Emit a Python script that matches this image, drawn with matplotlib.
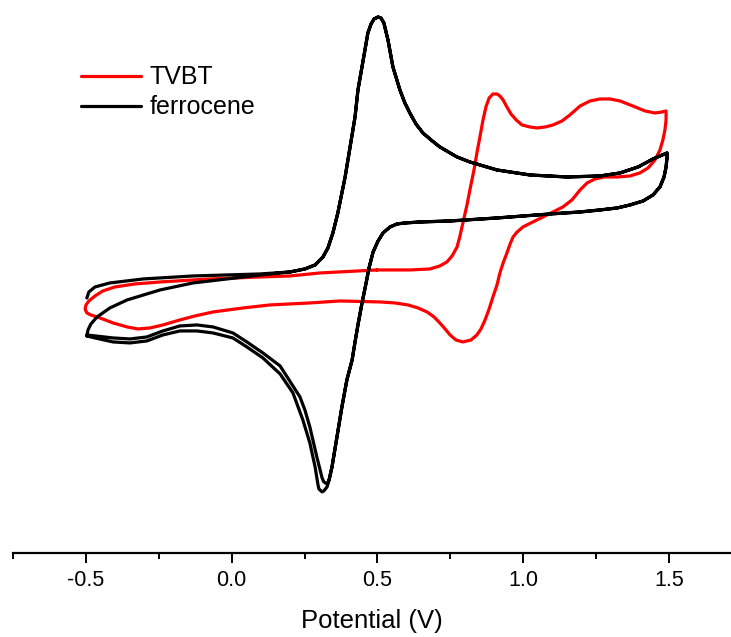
import numpy as np
import matplotlib
matplotlib.use("Agg")
import matplotlib.pyplot as plt
from matplotlib.ticker import MultipleLocator

# ==============================
# DATA  (potential in V, current in arbitrary units)
# ==============================

# ferrocene, first forward (anodic) sweep
fc_fwd_v = [-0.497, -0.490, -0.469, -0.418, -0.304, -0.133, 0.097, 0.200, 0.251, 0.286,
            0.313, 0.330, 0.347, 0.364, 0.378, 0.389, 0.406, 0.423, 0.433, 0.447,
            0.457, 0.467, 0.478, 0.488, 0.502, 0.512, 0.522, 0.536, 0.553, 0.577,
            0.594, 0.611, 0.632, 0.656, 0.684, 0.714, 0.773, 0.817, 0.910, 1.023,
            1.150, 1.263, 1.332, 1.394, 1.445, 1.493]
fc_fwd_i = [-1.8, -1.2, -0.7, -0.3, 0.1, 0.4, 0.6, 0.8, 1.1, 1.5,
            2.3, 3.2, 4.7, 6.7, 8.7, 10.3, 13.3, 16.3, 19.0, 21.3,
            23.0, 24.7, 25.6, 26.1, 26.3, 26.2, 25.7, 24.0, 21.3, 19.0,
            17.7, 16.7, 15.6, 14.7, 14.0, 13.3, 12.3, 11.8, 11.0, 10.5,
            10.3, 10.4, 10.7, 11.3, 12.1, 12.7]

# ferrocene, reverse sweep from 1.5 V down into the cathodic peak (both cycles)
fc_rev_v = [1.493, 1.490, 1.483, 1.469, 1.445, 1.411, 1.366, 1.322, 1.263, 1.195,
            1.092, 0.910, 0.749, 0.646, 0.594, 0.567, 0.543, 0.519, 0.502, 0.485,
            0.471, 0.461, 0.447, 0.433, 0.423, 0.413, 0.395, 0.378, 0.361, 0.344, 0.334]
fc_rev_i = [12.2, 11.3, 10.3, 9.3, 8.5, 7.9, 7.5, 7.2, 7.0, 6.8,
            6.6, 6.2, 5.9, 5.8, 5.7, 5.6, 5.3, 4.7, 3.9, 2.8,
            1.2, -0.3, -2.3, -4.5, -6.2, -8.0, -10.0, -12.7, -15.7, -18.7, -20.0]

# ferrocene, cathodic peak bottom and tail, cycle 1 (inner line)
fc_tail1_v = [0.327, 0.316, 0.310, 0.292, 0.268, 0.251, 0.234, 0.210, 0.166, 0.107,
              0.052, 0.004, -0.064, -0.119, -0.178, -0.236, -0.291, -0.349, -0.407,
              -0.469, -0.497]
fc_tail1_i = [-20.4, -20.2, -19.8, -17.7, -14.7, -13.0, -11.7, -10.6, -8.6, -7.3,
              -6.2, -5.3, -4.7, -4.5, -4.6, -5.1, -5.7, -5.9, -5.8,
              -5.6, -5.5]

# ferrocene, start of second forward sweep (joins the first one near 0.2 V)
fc_fwd2_v = [-0.497, -0.493, -0.483, -0.462, -0.418, -0.359, -0.246, -0.133, -0.016, 0.097]
fc_fwd2_i = [-5.6, -5.0, -4.4, -3.7, -2.8, -2.0, -1.0, -0.3, 0.1, 0.5]

# ferrocene, cathodic peak bottom and tail, cycle 2 (outer line)
fc_tail2_v = [0.327, 0.316, 0.310, 0.299, 0.296, 0.286, 0.268, 0.244, 0.210, 0.166,
              0.107, 0.052, 0.004, -0.064, -0.119, -0.178, -0.236, -0.291, -0.349,
              -0.407, -0.469, -0.497]
fc_tail2_i = [-20.7, -21.1, -21.2, -20.9, -20.5, -18.7, -16.3, -14.0, -11.3, -9.4,
              -7.8, -6.7, -5.8, -5.3, -5.1, -5.1, -5.5, -6.1, -6.3,
              -6.2, -5.8, -5.6]

# TVBT, one full cycle starting at 0.5 V
tvbt_v = [0.498, 0.611, 0.680, 0.714, 0.738, 0.756, 0.773, 0.783, 0.793, 0.807,
          0.817, 0.831, 0.841, 0.852, 0.862, 0.872, 0.883, 0.896, 0.910, 0.920,
          0.931, 0.944, 0.958, 0.976, 0.996, 1.023, 1.047, 1.075, 1.102, 1.133,
          1.160, 1.195, 1.229, 1.263, 1.298, 1.332, 1.376, 1.418, 1.452, 1.476, 1.490,
          # reverse
          1.490, 1.486, 1.479, 1.469, 1.452, 1.428, 1.400, 1.366, 1.322, 1.280,
          1.246, 1.219, 1.195, 1.167, 1.136, 1.102, 1.068, 1.033, 0.999, 0.979,
          0.965, 0.955, 0.944, 0.931, 0.920, 0.910, 0.896, 0.883, 0.869, 0.855,
          0.841, 0.821, 0.793, 0.769, 0.749, 0.732, 0.714, 0.694, 0.670, 0.639,
          0.605, 0.560, 0.509, 0.371, 0.268, 0.131, 0.039, -0.064, -0.126, -0.178,
          -0.236, -0.280, -0.322, -0.359, -0.407, -0.452, -0.483, -0.497,
          # forward again
          -0.503, -0.500, -0.490, -0.469, -0.442, -0.401, -0.332, -0.246, -0.075,
          0.097, 0.200, 0.303, 0.498]
tvbt_i = [1.0, 1.0, 1.1, 1.4, 1.8, 2.4, 3.3, 4.4, 5.7, 7.5,
          9.0, 11.0, 12.7, 14.4, 16.0, 17.3, 18.2, 18.6, 18.6, 18.4,
          18.0, 17.3, 16.6, 16.0, 15.5, 15.3, 15.2, 15.3, 15.5, 15.9,
          16.5, 17.4, 17.9, 18.1, 18.1, 17.9, 17.4, 16.9, 16.7, 16.8, 16.9,
          # reverse
          16.0, 15.0, 14.0, 13.0, 12.0, 11.2, 10.7, 10.4, 10.3, 10.3,
          10.1, 9.7, 9.0, 8.0, 7.3, 6.8, 6.3, 5.8, 5.3, 4.8,
          4.3, 3.6, 2.7, 1.7, 0.7, -0.5, -1.7, -2.9, -4.0, -4.9,
          -5.5, -6.0, -6.2, -6.0, -5.5, -4.9, -4.3, -3.7, -3.2, -2.8,
          -2.5, -2.3, -2.2, -2.1, -2.3, -2.5, -2.8, -3.2, -3.6, -4.0,
          -4.5, -4.8, -4.9, -4.7, -4.3, -3.8, -3.5, -3.3,
          # forward again
          -2.9, -2.5, -2.1, -1.6, -1.1, -0.7, -0.4, -0.2, 0.1,
          0.3, 0.4, 0.7, 1.0]

# ==============================
# BUILD CURVES
# ==============================

j = fc_fwd_v.index(0.200)   # second sweep merges with the first here
fc_v = (fc_fwd_v + fc_rev_v + fc_tail1_v
        + fc_fwd2_v + fc_fwd_v[j:] + fc_rev_v + fc_tail2_v)
fc_i = (fc_fwd_i + fc_rev_i + fc_tail1_i
        + fc_fwd2_i + fc_fwd_i[j:] + fc_rev_i + fc_tail2_i)

# ==============================
# PLOT
# ==============================

plt.rcParams['font.family'] = ['Liberation Sans', 'DejaVu Sans']

fig = plt.figure(figsize=(7.31, 6.37), dpi=100)
ax = fig.add_axes([0.0179, 0.132, 0.9821, 0.868])

red_line, = ax.plot(tvbt_v, tvbt_i, color='#ff0000', lw=2.3,
                    solid_joinstyle='round', solid_capstyle='round', zorder=2)
blk_line, = ax.plot(fc_v, fc_i, color='black', lw=2.3,
                    solid_joinstyle='round', solid_capstyle='round', zorder=3)

ax.set_xlim(-0.75, 1.7127)
ax.set_ylim(-27.3, 28.0)

for side in ['left', 'right', 'top']:
    ax.spines[side].set_visible(False)
ax.spines['bottom'].set_linewidth(1.6)
ax.set_yticks([])

ax.xaxis.set_major_locator(MultipleLocator(0.5))
ax.xaxis.set_minor_locator(MultipleLocator(0.25))
ax.tick_params(axis='x', which='major', direction='out', length=7, width=1.4,
               labelsize=15.5, pad=5)
ax.tick_params(axis='x', which='minor', direction='out', length=4, width=1.4)
ax.set_xticks([-0.5, 0.0, 0.5, 1.0, 1.5])
ax.set_xticklabels(['-0.5', '0.0', '0.5', '1.0', '1.5'])
ax.set_xlabel('Potential (V)', fontsize=18.5, labelpad=13)

ax.legend([red_line, blk_line], ['TVBT', 'ferrocene'], loc='upper left',
          bbox_to_anchor=(0.081, 0.90), frameon=False, fontsize=18,
          handlelength=2.4, handletextpad=0.32, labelspacing=0.24,
          borderaxespad=0.0)

fig.savefig('out.png', dpi=100)
